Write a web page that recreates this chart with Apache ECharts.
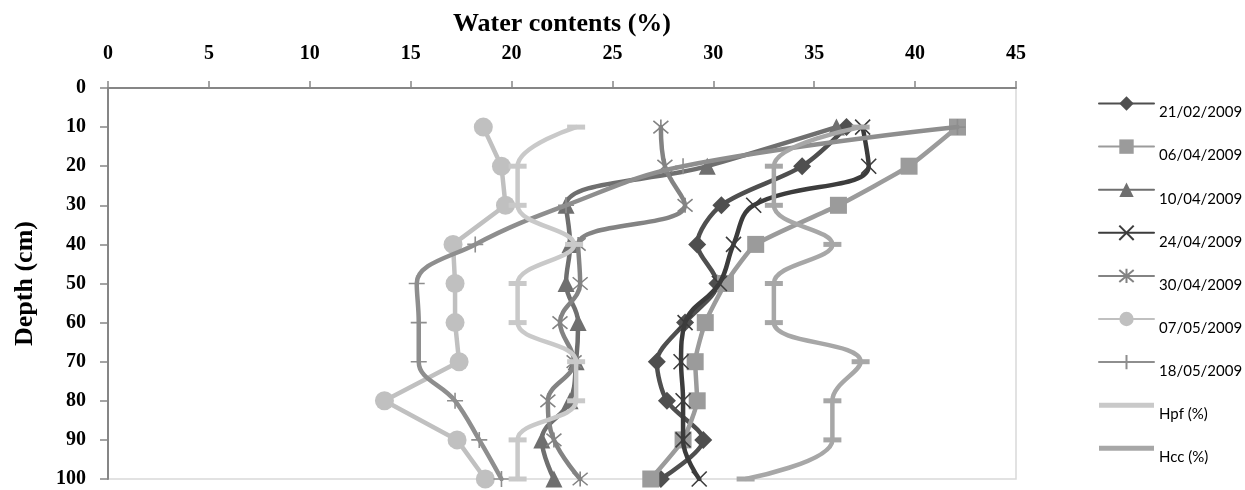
<!DOCTYPE html>
<html>
<head>
<meta charset="utf-8">
<script src="https://cdn.jsdelivr.net/npm/echarts@6/dist/echarts.min.js"></script>
<style>
html,body{margin:0;padding:0;background:#fff;}
#chart{width:1245px;height:490px;}
</style>
</head>
<body>
<div id="chart"></div>
<script>
const depths = [10, 20, 30, 40, 50, 60, 70, 80, 90, 100];
const xTicks = [0, 5, 10, 15, 20, 25, 30, 35, 40, 45];
const seriesNames = ['21/02/2009', '06/04/2009', '10/04/2009', '24/04/2009', '30/04/2009', '07/05/2009', '18/05/2009', 'Hpf (%)', 'Hcc (%)'];
const s21_02 = [36.6, 34.4, 30.4, 29.2, 30.2, 28.6, 27.2, 27.7, 29.5, 27.4];
const s06_04 = [42.1, 39.7, 36.2, 32.1, 30.6, 29.6, 29.1, 29.2, 28.5, 26.9];
const s10_04 = [36.1, 29.7, 22.7, 22.9, 22.7, 23.3, 23.2, 22.9, 21.5, 22.1];
const s24_04 = [37.4, 37.7, 32.0, 31.0, 30.3, 28.6, 28.4, 28.5, 28.5, 29.3];
const s30_04 = [27.4, 27.6, 28.6, 23.3, 23.4, 22.4, 23.1, 21.8, 22.1, 23.4];
const s07_05 = [18.6, 19.5, 19.7, 17.1, 17.2, 17.2, 17.4, 13.7, 17.3, 18.7];
const s18_05 = [42.1, 28.5, 22.7, 18.2, 15.3, 15.4, 15.4, 17.2, 18.4, 19.5];
const hpf = [23.2, 20.3, 20.3, 23.1, 20.3, 20.3, 23.2, 23.2, 20.3, 20.3];
const hcc = [37.3, 33.0, 33.0, 35.9, 33.0, 33.0, 37.3, 35.9, 35.9, 31.6];

const valuesList = [s21_02, s06_04, s10_04, s24_04, s30_04, s07_05, s18_05, hpf, hcc];

const X_PATH = 'path://M0,0L10,10M10,0L0,10';
const AST_PATH = 'path://M0,0L10,10M10,0L0,10M5,-1L5,11';
const PLUS_PATH = 'path://M0,5L10,5M5,0L5,10';
const BAR_ICON = 'path://M0,0L55,0L55,5L0,5Z';

const styles = [
  {color:'#4f4f4f', symbol:'diamond', size:18, smooth:0.3},
  {color:'#9b9b9b', symbol:'rect', size:17, smooth:0.15},
  {color:'#6f6f6f', symbol:'triangle', size:17, smooth:0.4},
  {color:'#3c3c3c', symbol:X_PATH, size:15, smooth:0.4, stroke:true},
  {color:'#838383', symbol:AST_PATH, size:15, smooth:0.4, stroke:true},
  {color:'#c0c0c0', symbol:'circle', size:19, smooth:false},
  {color:'#8e8e8e', symbol:PLUS_PATH, size:16, smooth:0.4, stroke:true},
  {color:'#c9c9c9', symbol:'rect', size:[18,5], smooth:0.4, bar:true},
  {color:'#a7a7a7', symbol:'rect', size:[18,5], smooth:0.4, bar:true}
];

const series = seriesNames.map(function(name, i){
  const st = styles[i];
  const data = depths.map(function(d, k){ return [valuesList[i][k], d]; });
  const itemStyle = st.stroke
    ? {color:'rgba(0,0,0,0)', borderColor: st.color, borderWidth: 1.6}
    : {color: st.color, borderWidth: 0};
  return {
    name: name,
    type: 'line',
    data: data,
    smooth: st.smooth,
    symbol: st.symbol,
    symbolSize: st.size,
    showSymbol: true,
    lineStyle: {color: st.color, width: 4.5, cap:'round'},
    itemStyle: itemStyle,
    emphasis: {disabled: true},
    z: 2 + i
  };
});

const legendData = seriesNames.map(function(name, i){
  const st = styles[i];
  if (st.bar) return {name: name, icon: BAR_ICON, itemStyle: {color: st.color}};
  return {name: name};
});

const serif = '"Liberation Serif", "Times New Roman", serif';
const chart = echarts.init(document.getElementById('chart'), null, {renderer:'canvas'});
chart.setOption({
  animation: false,
  backgroundColor: '#fff',
  grid: {left:108, top:88, width:908, height:391, show:true, borderColor:'#d9d9d9', borderWidth:1.5, backgroundColor:'transparent'},
  xAxis: {
    type:'value', position:'top', min: xTicks[0], max: xTicks[xTicks.length-1], interval: 5,
    name:'Water contents (%)', nameLocation:'middle', nameGap:51,
    nameTextStyle:{fontFamily:serif, fontWeight:'bold', fontSize:26, color:'#000'},
    axisLine:{show:true, lineStyle:{color:'#868686', width:2}},
    axisTick:{show:true, inside:false, length:7, lineStyle:{color:'#868686', width:1.5}},
    axisLabel:{fontFamily:serif, fontWeight:'bold', fontSize:20, color:'#000', margin:24},
    splitLine:{show:false}
  },
  yAxis: {
    type:'value', inverse:true, min:0, max:100, interval:10,
    name:'Depth (cm)', nameLocation:'middle', nameGap:70, nameRotate:90,
    nameTextStyle:{fontFamily:serif, fontWeight:'bold', fontSize:26, color:'#000'},
    axisLine:{show:true, lineStyle:{color:'#868686', width:2}},
    axisTick:{show:true, inside:false, length:8, lineStyle:{color:'#868686', width:1.5}},
    axisLabel:{fontFamily:serif, fontWeight:'bold', fontSize:20, color:'#000', margin:22},
    splitLine:{show:false}
  },
  legend: {
    orient:'vertical', left:1093, top:82,
    itemWidth:55, itemHeight:18, itemGap:10.1,
    data: legendData,
    formatter: function(name){ return '{t|' + name + '}'; },
    textStyle:{
      fontFamily:'Lato, "Open Sans", sans-serif', fontSize:15, color:'#000',
      rich:{ t:{fontFamily:'Lato, "Open Sans", sans-serif', fontSize:15, color:'#000', lineHeight:18, padding:[18,0,0,0]} }
    },
    selectedMode:false
  },
  series: series
});
</script>
</body>
</html>
